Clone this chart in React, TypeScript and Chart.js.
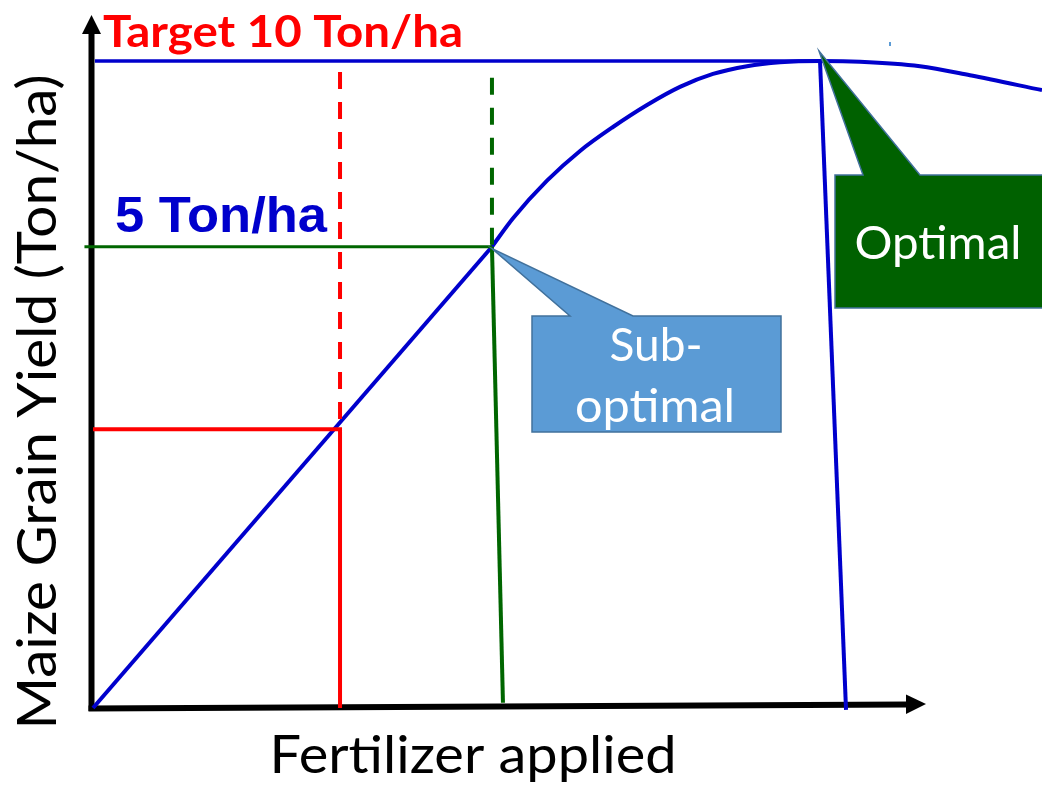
import React, { useEffect, useRef } from "react";
import { Chart, registerables } from "chart.js";

Chart.register(...registerables);

// ---- data (x: fertilizer applied, 0-100 relative; y: yield, 0-10 Ton/ha relative) ----
const linearX = [0, 42.04];
const linearY = [0, 7.13];
const curveX = [42.04, 44.26, 47.84, 51.32, 54.79, 58.38, 61.85, 65.33, 68.91, 72.39, 76.61, 80.82, 87.14, 92.41, 100];
const curveY = [7.13, 7.57, 8.15, 8.61, 8.98, 9.32, 9.6, 9.8, 9.92, 9.98, 10.0, 9.99, 9.92, 9.78, 9.55];
const targetX = [0.2, 76.61];
const targetY = [10, 10];
const redX = [0, 26.03, 26.03];
const redY = [4.31, 4.31, 0];
const redDashX = [26.03, 26.03];
const redDashY = [9.83, 4.31];
const greenX = [-0.9, 42.04];
const greenY = [7.13, 7.13];
const greenDropX = [42.04, 43.2];
const greenDropY = [7.13, 0.08];
const greenDashX = [42.04, 42.04];
const greenDashY = [9.74, 7.13];
const optimalDropX = [76.61, 79.35];
const optimalDropY = [10, -0.03];

const targetLabel = "Target 10 Ton/ha";
const subLabel = "5 Ton/ha";
const xTitle = "Fertilizer applied";
const yTitle = "Maize Grain Yield (Ton/ha)";
const subCallout = ["Sub-", "optimal"];
const optCallout = "Optimal";

const BLUE = "#0000CC";
const RED = "#FF0000";
const GREEN = "#006600";

const pts = (xs: number[], ys: number[]) => xs.map((x, i) => ({ x, y: ys[i] }));

// draw text with a given cap height, squeezed/stretched horizontally to a given width
function drawText(
  ctx: CanvasRenderingContext2D,
  text: string,
  x: number,
  y: number,
  w: number,
  cap: number,
  family: string,
  weight: string,
  color: string,
  align: "left" | "center"
) {
  ctx.save();
  ctx.font = `${weight} 100px ${family}`;
  const capRatio = ctx.measureText("H").actualBoundingBoxAscent / 100 || 0.72;
  const size = cap / capRatio;
  ctx.font = `${weight} ${size}px ${family}`;
  const mw = ctx.measureText(text).width;
  const sx = w / mw;
  ctx.translate(x, y);
  ctx.scale(sx, 1);
  ctx.fillStyle = color;
  ctx.textAlign = align;
  ctx.textBaseline = "alphabetic";
  ctx.fillText(text, 0, 0);
  ctx.restore();
}

const decorPlugin = {
  id: "decor",
  beforeDatasetsDraw(chart: any) {
    const ctx: CanvasRenderingContext2D = chart.ctx;
    const xs = chart.scales.x;
    const ys = chart.scales.y;
    const ox = xs.getPixelForValue(0) - 1.5;
    const oy = ys.getPixelForValue(0);
    ctx.save();
    ctx.strokeStyle = "#000";
    ctx.fillStyle = "#000";
    ctx.lineWidth = 6;
    ctx.lineCap = "butt";
    // y axis
    ctx.beginPath();
    ctx.moveTo(ox, oy + 3);
    ctx.lineTo(ox, 33);
    ctx.stroke();
    ctx.beginPath();
    ctx.moveTo(ox - 9.5, 34);
    ctx.lineTo(ox, 15);
    ctx.lineTo(ox + 9.5, 34);
    ctx.closePath();
    ctx.fill();
    // x axis
    ctx.beginPath();
    ctx.moveTo(ox - 3, oy + 0.5);
    ctx.lineTo(908, oy - 3.5);
    ctx.stroke();
    ctx.beginPath();
    ctx.moveTo(906, oy - 13.5);
    ctx.lineTo(926, oy - 4);
    ctx.lineTo(906, oy + 6);
    ctx.closePath();
    ctx.fill();
    ctx.restore();
  },
  afterDatasetsDraw(chart: any) {
    const ctx: CanvasRenderingContext2D = chart.ctx;
    const xs = chart.scales.x;
    const ys = chart.scales.y;
    ctx.save();

    // Sub-optimal callout
    const sx = xs.getPixelForValue(linearX[1]);
    const sy = ys.getPixelForValue(linearY[1]) + 2;
    ctx.beginPath();
    ctx.moveTo(532, 316);
    ctx.lineTo(570, 316);
    ctx.lineTo(sx, sy);
    ctx.lineTo(633, 316);
    ctx.lineTo(781, 316);
    ctx.lineTo(781, 432);
    ctx.lineTo(532, 432);
    ctx.closePath();
    ctx.fillStyle = "#5B9BD5";
    ctx.fill();
    ctx.strokeStyle = "#41719C";
    ctx.lineWidth = 1.5;
    ctx.stroke();

    // Optimal callout
    const tx = xs.getPixelForValue(optimalDropX[0]) - 1;
    const ty = ys.getPixelForValue(optimalDropY[0]) - 10;
    ctx.beginPath();
    ctx.moveTo(835, 175);
    ctx.lineTo(863, 175);
    ctx.lineTo(tx, ty);
    ctx.lineTo(920, 175);
    ctx.lineTo(1046, 175);
    ctx.lineTo(1046, 308);
    ctx.lineTo(835, 308);
    ctx.closePath();
    ctx.fillStyle = "#006100";
    ctx.fill();
    ctx.strokeStyle = "#41719C";
    ctx.lineWidth = 1.5;
    ctx.stroke();

    // tiny mark
    ctx.fillStyle = "#5B9BD5";
    ctx.fillRect(889, 42, 2, 4);

    const cal = "Lato, 'Open Sans', sans-serif";
    drawText(ctx, subCallout[0], 656, 361, 93, 34, cal, "normal", "#fff", "center");
    drawText(ctx, subCallout[1], 655, 422, 160, 34, cal, "normal", "#fff", "center");
    drawText(ctx, optCallout, 938, 259, 167, 34, cal, "normal", "#fff", "center");

    drawText(ctx, targetLabel, 103, 47, 360, 32, cal, "bold", RED, "left");
    drawText(ctx, subLabel, 115, 232, 212, 35, "'Liberation Sans', Arial, sans-serif", "bold", BLUE, "left");
    drawText(ctx, xTitle, 473, 773, 407, 38, cal, "normal", "#000", "center");

    ctx.save();
    ctx.translate(56, 402);
    ctx.rotate(-Math.PI / 2);
    drawText(ctx, yTitle, 0, 0, 655, 40, cal, "normal", "#000", "center");
    ctx.restore();

    ctx.restore();
  },
};

export default function App() {
  const ref = useRef<HTMLCanvasElement>(null);
  useEffect(() => {
    if (!ref.current) return;
    const line = (data: any[], color: string, extra: any = {}) => ({
      data,
      showLine: true,
      borderColor: color,
      backgroundColor: color,
      borderWidth: 4,
      pointRadius: 0,
      fill: false,
      clip: false,
      ...extra,
    });
    const chart = new Chart(ref.current, {
      type: "scatter",
      data: {
        datasets: [
          line(pts(redX, redY), RED),
          line(pts(redDashX, redDashY), RED, { borderDash: [17, 13] }),
          line(pts(greenDropX, greenDropY), GREEN),
          line(pts(greenDashX, greenDashY), GREEN, { borderDash: [17, 13] }),
          line(pts(greenX, greenY), GREEN, { borderWidth: 3 }),
          line(pts(linearX, linearY), BLUE),
          line(pts(curveX, curveY), BLUE, { cubicInterpolationMode: "monotone" }),
          line(pts(targetX, targetY), BLUE, { borderWidth: 3.5 }),
          line(pts(optimalDropX, optimalDropY), BLUE),
        ],
      },
      options: {
        responsive: false,
        animation: false,
        layout: { padding: { left: 93, top: 61, right: 0, bottom: 83 } },
        scales: {
          x: { type: "linear", min: 0, max: 100, display: false },
          y: { type: "linear", min: 0, max: 10, display: false },
        },
        plugins: { legend: { display: false }, tooltip: { enabled: false } },
      },
      plugins: [decorPlugin],
    });
    return () => chart.destroy();
  }, []);
  return (
    <div style={{ position: "absolute", left: 0, top: 0, width: 1042, height: 791, background: "#fff" }}>
      <canvas ref={ref} width={1042} height={791} style={{ display: "block" }} />
    </div>
  );
}
